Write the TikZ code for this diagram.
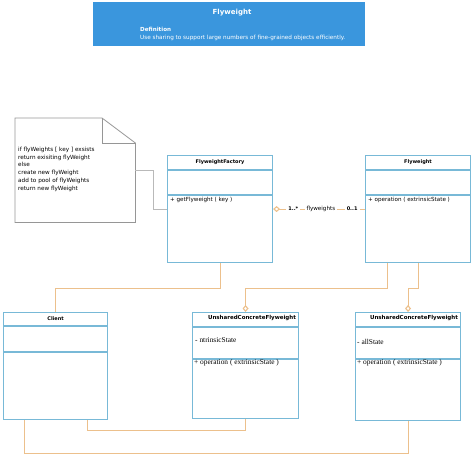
\documentclass[tikz,border=0pt]{standalone}
\usepackage{fontspec}
\setmainfont{DejaVu Sans}
\newfontfamily\umlserif{Liberation Serif}
\usetikzlibrary{arrows.meta, positioning, calc}
\definecolor{hdrblue}{RGB}{58,150,221}
\definecolor{clsline}{RGB}{120,185,215}
\definecolor{assoc}{RGB}{236,192,140}
\definecolor{notegray}{RGB}{150,150,150}
\definecolor{notelink}{RGB}{185,185,185}
\tikzset{
  every node/.style={font=\fontsize{5.6}{6.5}\selectfont, inner sep=0pt},
  hdr/.style     = {rectangle, fill=hdrblue, anchor=north west,
                    minimum width=272pt, minimum height=44pt},
  cls/.style     = {rectangle, draw=clsline, line width=1.1pt, anchor=north west},
  clsname/.style = {font=\fontsize{5}{6}\selectfont\bfseries},
  member/.style  = {anchor=west},
  umember/.style = {anchor=west, font=\fontsize{7.4}{8}\selectfont\umlserif},
  notetext/.style= {anchor=north west, align=left, font=\fontsize{5.7}{7.7}\selectfont},
  link/.style    = {draw=assoc, line width=1.1pt},
  aggtip/.tip    = {Diamond[open, length=7pt, width=6pt]},
  mult/.style    = {fill=white, inner xsep=2pt, inner ysep=1pt},
}

\begin{document}
\begin{tikzpicture}[x=1pt, y=-1pt]
  \useasboundingbox (0,0) rectangle (474,453);

  % ---- header ----
  \node[hdr] (hdr) at (93,2) {};
  \node[font=\fontsize{7}{8}\selectfont\bfseries, text=white] (hdrtitle) at (232,13) {Flyweight};
  \node[anchor=west, font=\fontsize{5.6}{6}\selectfont\bfseries, text=white] (hdrdef) at (140,29) {Definition};
  \node[anchor=west, font=\fontsize{5.7}{6}\selectfont, text=white] (hdrtext) at (140,38)
        {Use sharing to support large numbers of fine-grained objects efficiently.};

  % ---- note ----
  \node[minimum width=120pt, minimum height=104pt, anchor=north west] (note) at (15,118) {};
  \draw[notegray, line width=0.8pt] (note.north west) -- ++(87,0)
        -- ($(note.north east)+(0,25)$) -- (note.south east) -- (note.south west) -- cycle;
  \draw[notegray, line width=0.8pt] ($(note.north west)+(87,0)$) |- ($(note.north east)+(0,25)$);
  \node[notetext] (notetxt) at (18,147) {if flyWeights [ key ] exsists\\return exisiting flyWeight\\else\\create new flyWeight\\add to pool of flyWeights\\return new flyWeight};

  % ---- classes ----
  \node[cls, minimum width=105pt, minimum height=107pt] (fac)  at (167,155) {};
  \node[cls, minimum width=105pt, minimum height=107pt] (fw)   at (365,155) {};
  \node[cls, minimum width=104pt, minimum height=107pt] (cli)  at (3,312)   {};
  \node[cls, minimum width=106pt, minimum height=106pt] (ucf1) at (192,312) {};
  \node[cls, minimum width=105pt, minimum height=108pt] (ucf2) at (355,312) {};

  % compartments
  \foreach \b/\t/\d in {fac/15/40, fw/15/40, cli/14/40, ucf1/15/47, ucf2/15/47} {
    \draw[clsline, line width=1.1pt] ($(\b.north west)+(0,\t)$) -- ($(\b.north east)+(0,\t)$);
    \draw[clsline, line width=1.1pt] ($(\b.north west)+(0,\d)$) -- ($(\b.north east)+(0,\d)$);
  }

  \node[clsname] (facname)  at ($(fac.north)+(0,7.5)$) {FlyweightFactory};
  \node[member]  (facop)    at (170,200) {+ getFlyweight ( key )};
  \node[clsname] (fwname)   at ($(fw.north)+(0,7.5)$)  {Flyweight};
  \node[member]  (fwop)     at (368,200) {+ operation ( extrinsicState )};
  \node[clsname] (cliname)  at ($(cli.north)+(0,7)$)   {Client};
  \node[clsname, font=\fontsize{5.5}{6}\selectfont\bfseries] (u1name) at (252,318) {UnsharedConcreteFlyweight};
  \node[umember] (u1attr)   at (195,340) {- ntrinsicState};
  \node[umember] (u1op)     at (194,363) {+ operation ( extrinsicState )};
  \node[clsname, font=\fontsize{5.5}{6}\selectfont\bfseries] (u2name) at (414,318) {UnsharedConcreteFlyweight};
  \node[umember] (u2attr)   at (357,342) {- allState};
  \node[umember] (u2op)     at (357,363) {+ operation ( extrinsicState )};

  % ---- note link ----
  \draw[notelink, line width=0.8pt] (note.east) -- ++(18,0) |- (fac.west);

  % ---- aggregation ----
  \draw[link, {aggtip}-] (fac.east) -- (fw.west)
        node[mult, pos=0.22, font=\fontsize{5}{6}\selectfont\bfseries] (m1) {1..*}
        node[mult, pos=0.52] (role) {flyweights}
        node[mult, pos=0.86, font=\fontsize{5}{6}\selectfont\bfseries] (m2) {0..1};

  % ---- upper links ----
  \draw[link] (fac.south) -- ++(0,25) -| (cli.north);
  \draw[link, -{aggtip}] ($(fw.south)+(-31,0)$) -- ++(0,25) -| (ucf1.north);
  \draw[link, -{aggtip}] (fw.south) -- ++(0,25) -| (ucf2.north);

  % ---- lower links ----
  \draw[link] ($(cli.south)+(32,0)$) -- ++(0,10) -| (ucf1.south);
  \draw[link] ($(cli.south)+(-31,0)$) -- ++(0,33) -| (ucf2.south);
\end{tikzpicture}
\end{document}
